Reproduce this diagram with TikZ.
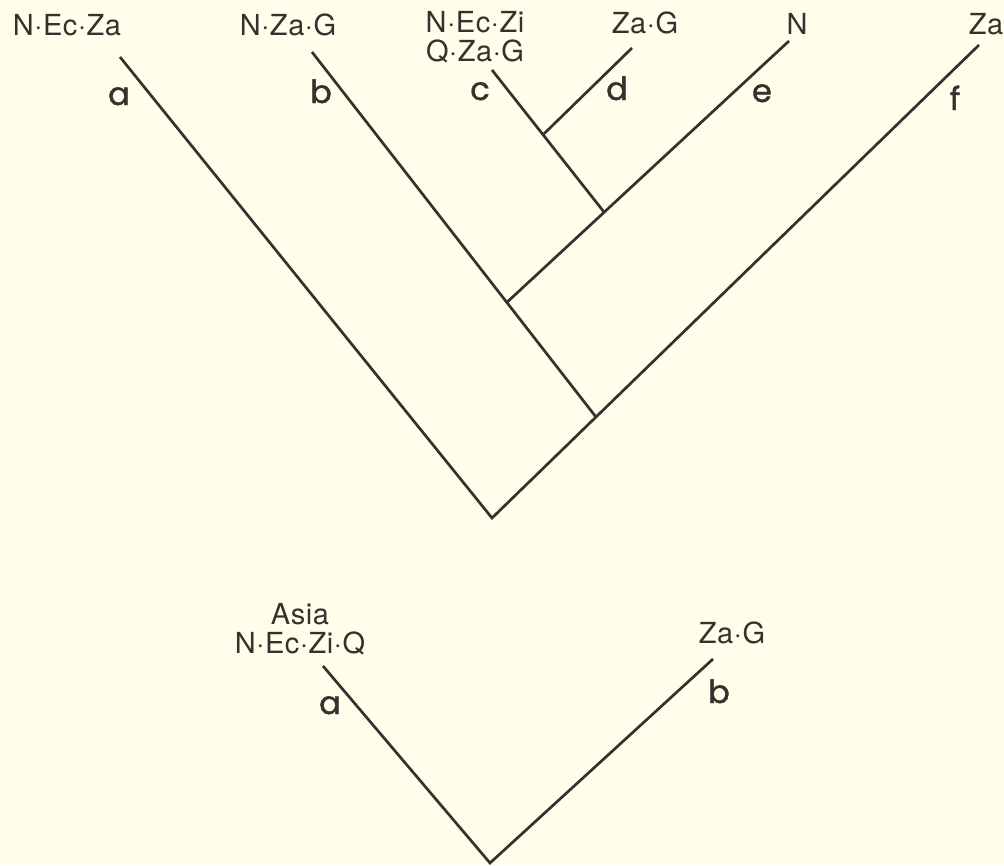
\documentclass[tikz,border=0pt]{standalone}
\usepackage{fontspec}
\setmainfont{TeX Gyre Heros}[LetterSpace=2]
\newfontfamily\cladefont{Poppins}[FakeBold=1.2]
\usetikzlibrary{calc}
\definecolor{paper}{RGB}{255,254,234}
\definecolor{ink}{RGB}{58,46,46}

\begin{document}
\begin{tikzpicture}[x=1pt,y=-1pt,
	branch/.style={draw=ink,line width=2.7pt},
	area/.style={text=ink,inner sep=0pt,anchor=base,align=center,font=\fontsize{29}{29}\selectfont},
	clade/.style={text=ink,inner sep=0pt,anchor=base,font=\cladefont\fontsize{32}{32}\selectfont}
	]
  \fill[paper] (0,0) rectangle (1004,865);
  \useasboundingbox (0,0) rectangle (1004,865);
  % upper cladogram
  \coordinate (root) at (492,518);
  \coordinate (tipA) at (120,57);
  \coordinate (tipB) at (312,52);
  \coordinate (tipC) at (492,70);
  \coordinate (tipD) at (632,48);
  \coordinate (tipE) at (789,41);
  \coordinate (tipF) at (979,45);
  \coordinate (forkB) at ($(root)!0.2135!(tipF)$);
  \coordinate (forkE) at ($(forkB)!0.314!(tipB)$);
  \coordinate (forkC) at ($(forkE)!0.345!(tipE)$);
  \coordinate (forkD) at ($(forkC)!0.545!(tipC)$);
  \draw [branch] (tipA) -- (root) -- (tipF);
  \draw [branch] (tipB) -- (forkB);
  \draw [branch] (tipE) -- (forkE);
  \draw [branch] (tipC) -- (forkC);
  \draw [branch] (tipD) -- (forkD);
  \node [area] (areaA) at (67,35) {N·Ec·Za};
  \node [area] (areaB) at (288,35) {N·Za·G};
  \node [area] (areaC) at (475,61) {N·Ec·Zi\\Q·Za·G};
  \node [area] (areaD) at (645,33) {Za·G};
  \node [area] (areaE) at (797,34) {N};
  \node [area] (areaF) at (986,34) {Za};
  \node [clade] (cladeA) at (119,105) {a};
  \node [clade] (cladeB) at (321,103) {b};
  \node [clade] (cladeC) at (480,100) {c};
  \node [clade] (cladeD) at (617,100) {d};
  \node [clade] (cladeE) at (762,102) {e};
  \node [clade] (cladeF) at (955,110) {f};
  % lower cladogram
  \coordinate (base) at (490,863);
  \coordinate (tipAsia) at (323,666);
  \coordinate (tipZaG) at (713,659);
  \draw [branch] (tipAsia) -- (base) -- (tipZaG);
  \node [area] (areaAsia) at (300,653) {Asia\\N·Ec·Zi·Q};
  \node [area] (areaZaG) at (732,643) {Za·G};
  \node [clade] (cladeAsia) at (330,714) {a};
  \node [clade] (cladeZaG) at (719,703) {b};
\end{tikzpicture}
\end{document}
